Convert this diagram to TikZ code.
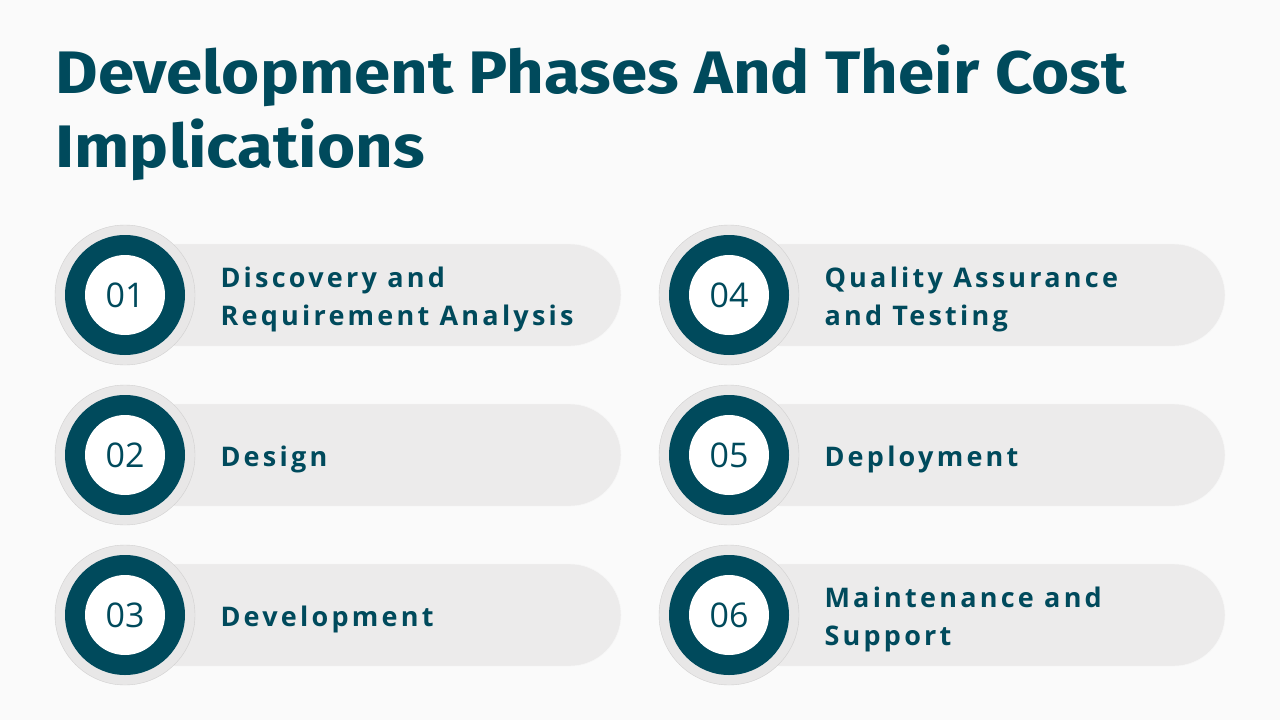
\documentclass[tikz,border=0pt]{standalone}
\usepackage{fontspec}
\setmainfont{Open Sans}
\newfontfamily\titlefont[FakeStretch=1.09]{Fira Sans}
\newfontfamily\cardfont[LetterSpace=12]{Open Sans}
\definecolor{teal}{HTML}{004A5C}
\definecolor{pill}{HTML}{ECEBEB}
\definecolor{ring}{HTML}{E8E7E7}
\definecolor{bg}{HTML}{FAFAFA}
\tikzset{
  pillbox/.style={fill=pill, draw=ring!80!black!10, rounded corners=51pt},
  ringc/.style={circle, fill=ring, draw=ring!90!black, minimum size=140pt, inner sep=0pt},
  darkc/.style={circle, fill=teal, minimum size=120pt, inner sep=0pt},
  numc/.style={circle, fill=white, minimum size=80pt, inner sep=0pt, font=\fontsize{34}{34}\selectfont, text=teal},
  lbl/.style={anchor=west, align=left, text=teal, font=\cardfont\fontsize{27}{38}\selectfont\bfseries}
}
\begin{document}
\begin{tikzpicture}[x=1pt,y=-1pt]
\fill[bg] (0,0) rectangle (1280,720);
\useasboundingbox (0,0) rectangle (1280,720);
\node[anchor=north west, align=left, text=teal, font=\titlefont\fontsize{60}{74}\selectfont\bfseries] (title) at (52,41) {Development Phases And Their Cost\\Implications};
\foreach \n/\cx/\cy/\t in {01/125/295/{Discovery and\\Requirement Analysis},02/125/455/Design,03/125/615/Development,04/729/295/{Quality Assurance\\and Testing},05/729/455/Deployment,06/729/615/{Maintenance and\\Support}}{
  \draw[pillbox] (\cx,\cy-51) rectangle (\cx+496,\cy+51);
  \node[ringc] (r\n) at (\cx,\cy) {};
  \node[darkc] (d\n) at (\cx,\cy) {};
  \node[numc] (n\n) at (\cx,\cy) {\n};
  \node[lbl] (l\n) at (\cx+92,\cy+4) {\t};
}
\end{tikzpicture}
\end{document}
